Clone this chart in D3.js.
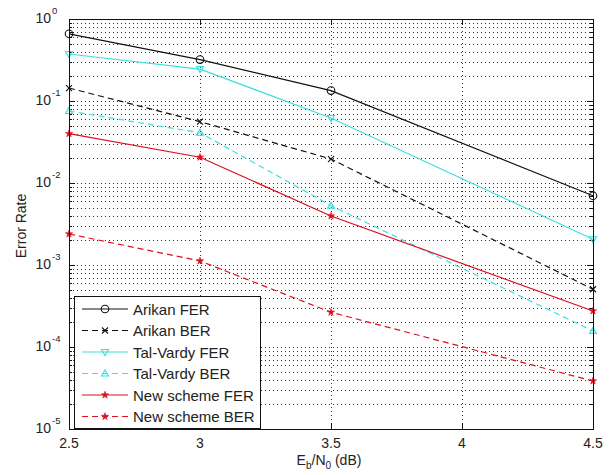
<!DOCTYPE html>
<html><head><meta charset="utf-8">
<script src="https://cdn.jsdelivr.net/npm/d3@7"></script>
<style>body{margin:0;background:#fff}svg{display:block}text{font-family:"Liberation Sans",Arial,sans-serif;fill:#222}</style>
</head><body>
<svg id="c" width="613" height="475"></svg>
<script>
const snr = [2.5, 3, 3.5, 4.5];
const arikanFER = [0.66, 0.32, 0.134, 0.0070];
const arikanBER = [0.144, 0.056, 0.0196, 5.06e-4];
const talVardyFER = [0.374, 0.245, 0.062, 2.06e-3];
const talVardyBER = [0.0755, 0.041, 5.3e-3, 1.57e-4];
const newFER = [0.040, 0.0206, 3.96e-3, 2.75e-4];
const newBER = [2.39e-3, 1.12e-3, 2.65e-4, 3.85e-5];
const xTicks = [2.5, 3, 3.5, 4, 4.5];
const xTickLabels = ["2.5", "3", "3.5", "4", "4.5"];
const yExps = [0, -1, -2, -3, -4, -5];
const seriesNames = ["Arikan FER","Arikan BER","Tal-Vardy FER","Tal-Vardy BER","New scheme FER","New scheme BER"];

const CY = "#40dede", RD = "#dc1020", BK = "#111";
const series = [
  {name: seriesNames[0], v: arikanFER, c: BK, dash: null, m: "circle"},
  {name: seriesNames[1], v: arikanBER, c: BK, dash: "6,4", m: "x"},
  {name: seriesNames[2], v: talVardyFER, c: CY, dash: null, m: "tridown"},
  {name: seriesNames[3], v: talVardyBER, c: CY, dash: "6,4", m: "triup"},
  {name: seriesNames[4], v: newFER, c: RD, dash: null, m: "star"},
  {name: seriesNames[5], v: newBER, c: RD, dash: "6,4", m: "star"}
];

const L = 69, R = 593, T = 19, B = 429;
const x = d3.scaleLinear().domain([2.5, 4.5]).range([L, R]);
const y = d3.scaleLog().domain([1e-5, 1]).range([B, T]);
const svg = d3.select("#c");

// grid
const g = svg.append("g");
const minors = [];
for (let e = -5; e < 0; e++) for (let k = 1; k <= 9; k++) minors.push(k * Math.pow(10, e));
minors.push(1);
g.selectAll("line.gy").data(minors.filter(v => v > 1e-5 && v < 1)).enter().append("line")
  .attr("x1", L).attr("x2", R).attr("y1", d => Math.round(y(d)) + 0.5).attr("y2", d => Math.round(y(d)) + 0.5)
  .attr("stroke", "#333").attr("stroke-width", 1).attr("stroke-dasharray", "1,3");
g.selectAll("line.gx").data(xTicks.slice(1, -1)).enter().append("line")
  .attr("x1", d => Math.round(x(d)) + 0.5).attr("x2", d => Math.round(x(d)) + 0.5).attr("y1", T).attr("y2", B)
  .attr("stroke", "#333").attr("stroke-width", 1).attr("stroke-dasharray", "1,3");

// ticks
const tk = svg.append("g").attr("stroke", "#111").attr("stroke-width", 1);
minors.forEach(v => {
  const yy = Math.round(y(v)) + 0.5;
  const major = Math.abs(Math.log10(v) - Math.round(Math.log10(v))) < 1e-9;
  const len = major ? 6 : 3;
  tk.append("line").attr("x1", L).attr("x2", L + len).attr("y1", yy).attr("y2", yy);
  tk.append("line").attr("x1", R).attr("x2", R - len).attr("y1", yy).attr("y2", yy);
});
xTicks.forEach(v => {
  const xx = Math.round(x(v)) + 0.5;
  tk.append("line").attr("x1", xx).attr("x2", xx).attr("y1", B).attr("y2", B - 6);
  tk.append("line").attr("x1", xx).attr("x2", xx).attr("y1", T).attr("y2", T + 6);
});

// lines
const line = d3.line().x((d, i) => x(snr[i])).y(d => y(d));
series.forEach(s => {
  svg.append("path").attr("d", line(s.v)).attr("fill", "none").attr("stroke", s.c)
    .attr("stroke-width", 1.2).attr("stroke-dasharray", s.dash);
});

function marker(sel, type, cx, cy, c) {
  if (type === "circle") sel.append("circle").attr("cx", cx).attr("cy", cy).attr("r", 3.8).attr("fill", "none").attr("stroke", c).attr("stroke-width", 1.1);
  else if (type === "x") sel.append("path").attr("d", `M${cx-3},${cy-3}L${cx+3},${cy+3}M${cx-3},${cy+3}L${cx+3},${cy-3}`).attr("stroke", c).attr("stroke-width", 1.1);
  else if (type === "tridown") sel.append("path").attr("d", `M${cx-3.5},${cy-2.5}L${cx+3.5},${cy-2.5}L${cx},${cy+3.5}Z`).attr("fill", "none").attr("stroke", c).attr("stroke-width", 1.2);
  else if (type === "triup") sel.append("path").attr("d", `M${cx-3.5},${cy+2.5}L${cx+3.5},${cy+2.5}L${cx},${cy-3.5}Z`).attr("fill", "none").attr("stroke", c).attr("stroke-width", 1.2);
  else if (type === "star") {
    const pts = [];
    for (let i = 0; i < 10; i++) { const r = i % 2 ? 1.5 : 3.8; const a = -Math.PI / 2 + i * Math.PI / 5; pts.push([cx + r * Math.cos(a), cy + r * Math.sin(a)]); }
    sel.append("path").attr("d", "M" + pts.join("L") + "Z").attr("fill", c).attr("stroke", c).attr("stroke-width", 0.6);
  }
}
series.forEach(s => s.v.forEach((v, i) => marker(svg, s.m, x(snr[i]), y(v), s.c)));

// frame
svg.append("rect").attr("x", L + 0.5).attr("y", T + 0.5).attr("width", R - L).attr("height", B - T)
  .attr("fill", "none").attr("stroke", "#111").attr("stroke-width", 1);

// y tick labels
yExps.forEach(e => {
  svg.append("text").attr("x", 51).attr("y", y(Math.pow(10, e)) + 4).attr("text-anchor", "end").attr("font-size", 14).text("10");
  svg.append("text").attr("x", 52).attr("y", y(Math.pow(10, e)) - 5).attr("font-size", 9.5).text(e === 0 ? "0" : "-" + (-e));
});
// x tick labels
xTicks.forEach((v, i) => {
  svg.append("text").attr("x", x(v)).attr("y", 448).attr("text-anchor", "middle").attr("font-size", 14).text(xTickLabels[i]);
});
// axis labels
const xl = svg.append("text").attr("x", 329).attr("y", 465).attr("text-anchor", "middle").attr("font-size", 14);
xl.append("tspan").text("E");
xl.append("tspan").attr("dy", 4).attr("font-size", 10).text("b");
xl.append("tspan").attr("dy", -4).text("/N");
xl.append("tspan").attr("dy", 4).attr("font-size", 10).text("0");
xl.append("tspan").attr("dy", -4).text(" (dB)");
svg.append("text").attr("transform", "translate(26,226) rotate(-90)").attr("text-anchor", "middle").attr("font-size", 14).text("Error Rate");

// legend
const lg = svg.append("g");
lg.append("rect").attr("x", 74.5).attr("y", 296.5).attr("width", 186).attr("height", 132).attr("fill", "#fff").attr("stroke", "#111");
series.forEach((s, i) => {
  const yy = 309 + i * 21.5;
  lg.append("line").attr("x1", 82).attr("x2", 128).attr("y1", yy).attr("y2", yy).attr("stroke", s.c).attr("stroke-width", 1.2).attr("stroke-dasharray", s.dash);
  marker(lg, s.m, 105, yy, s.c);
  lg.append("text").attr("x", 133).attr("y", yy + 5.5).attr("font-size", 15).text(s.name);
});
</script>
</body></html>
